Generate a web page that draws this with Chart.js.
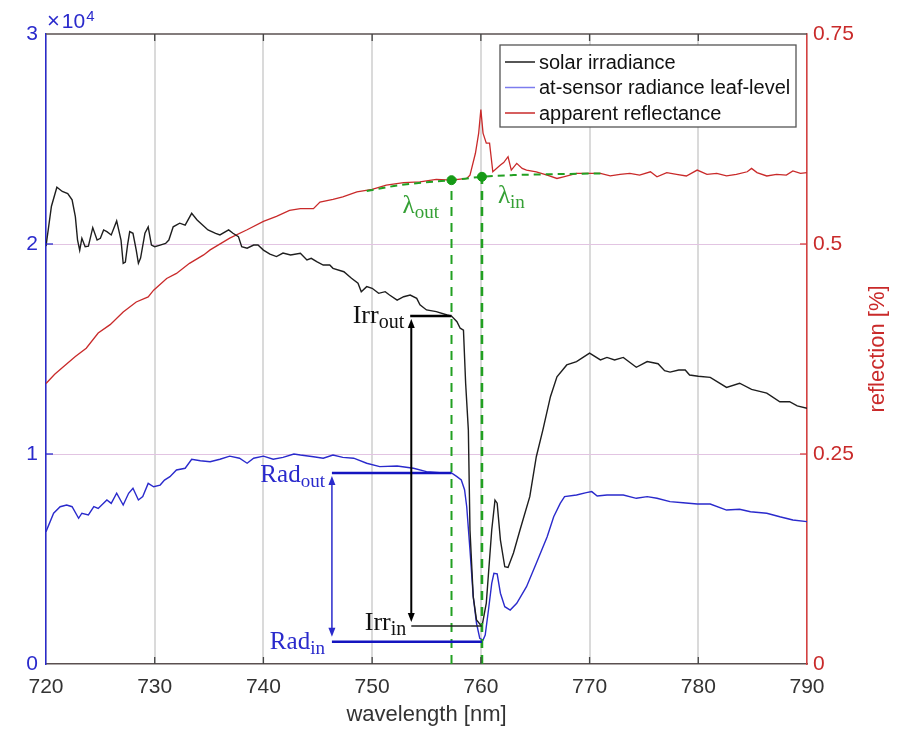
<!DOCTYPE html>
<html>
<head>
<meta charset="utf-8">
<title>Solar irradiance, radiance and apparent reflectance</title>
<script src="https://cdn.jsdelivr.net/npm/chart.js@4.4.0/dist/chart.umd.min.js"></script>
<style>
  html, body { margin: 0; padding: 0; background: #ffffff; }
  #wrap { width: 903px; height: 729px; }
</style>
</head>
<body>
<div id="wrap"><canvas id="spectra" width="903" height="729"></canvas></div>
<script>
// ---- values ----

// solar irradiance (left axis, raw units)
const irrWl = [
  720.0, 720.5, 721.0, 721.5, 722.0, 722.4, 722.7, 722.9, 723.1, 723.3,
  723.6, 723.9, 724.3, 724.7, 725.0, 725.3, 725.6, 726.0, 726.5, 726.9,
  727.1, 727.3, 727.5, 727.7, 728.0, 728.3, 728.5, 728.7, 729.1, 729.4,
  729.7, 730.0, 730.5, 731.0, 731.3, 731.7, 732.3, 732.8, 733.4, 733.9,
  734.3, 734.9, 735.6, 736.0, 736.8, 737.2, 737.7, 738.0, 738.5, 739.1,
  739.5, 740.0, 740.6, 741.2, 741.8, 742.5, 743.4, 744.0, 744.4, 744.9,
  745.5, 746.1, 746.4, 747.4, 748.1, 748.7, 749.0, 749.5, 750.0, 750.6,
  751.2, 751.6, 752.3, 752.9, 753.5, 754.1, 754.4, 755.0, 755.9, 756.9,
  757.3, 757.8, 758.1, 758.4, 758.6, 758.85, 759.0, 759.3, 759.6, 760.1,
  760.5, 761.0, 761.3, 761.5, 761.8, 762.2, 762.5, 763.0, 763.6, 764.5,
  765.1, 765.7, 766.4, 767.0, 767.9, 768.8, 770.0, 771.0, 771.6, 772.3,
  773.1, 774.3, 775.3, 776.3, 776.9, 777.4, 778.2, 778.8, 779.2, 780.0,
  781.1, 782.6, 783.8, 784.9, 786.3, 787.5, 788.4, 789.1, 790.0
];
const irrVal = [
  19900, 21800, 22700, 22500, 22400, 22100, 21300, 20200, 19700, 20270,
  19870, 19900, 20780, 20190, 20270, 20670, 20590, 20430, 21100, 20190,
  19080, 19140, 19950, 20590, 20510, 19710, 19080, 19330, 20510, 20810,
  19950, 19870, 19950, 20030, 20190, 20820, 20990, 20900, 21460, 21140,
  20950, 20670, 20510, 20430, 20670, 20510, 20350, 19870, 19800, 19950,
  19950, 19710, 19520, 19400, 19570, 19480, 19560, 19240, 19320, 19160,
  19000, 19000, 18840, 18680, 18370, 18130, 17730, 17970, 17890, 17650,
  17730, 17570, 17330, 17490, 17570, 17410, 17100, 16860, 16780, 16620,
  16570, 16300, 15990, 15900, 13370, 11140, 6380, 3200, 2100, 1780,
  2900, 6380, 7800, 7660, 5900, 4630, 4600, 5290, 6380, 7970,
  9870, 11140, 12730, 13680, 14240, 14400, 14800, 14480, 14600, 14480,
  14600, 14130, 14400, 14300, 13970, 13900, 14000, 14000, 13760, 13700,
  13650, 13170, 13370, 13080, 12900, 12490, 12490, 12290, 12180
];

// at-sensor radiance, leaf level (left axis)
const radWl = [
  720.0, 720.7, 721.3, 721.9, 722.4, 723.0, 723.3, 723.9, 724.4, 724.8,
  725.6, 726.0, 726.5, 727.1, 727.6, 728.0, 728.5, 728.9, 729.4, 729.9,
  730.5, 730.9, 731.4, 732.0, 732.8, 733.4, 734.2, 735.1, 736.0, 736.9,
  737.8, 738.5, 739.1, 740.0, 740.9, 741.8, 742.8, 743.4, 744.6, 745.5,
  746.4, 747.3, 748.3, 749.5, 750.7, 752.3, 753.8, 755.0, 756.2, 757.3,
  757.8, 758.2, 758.5, 758.7, 759.0, 759.3, 759.6, 759.9, 760.2, 760.4,
  760.7, 761.0, 761.2, 761.5, 761.8, 762.2, 762.7, 763.3, 764.2, 765.1,
  766.1, 766.7, 767.3, 767.7, 768.8, 769.7, 770.2, 770.7, 771.6, 772.2,
  773.1, 774.3, 775.3, 776.2, 777.4, 778.6, 779.9, 781.1, 782.6, 783.8,
  784.8, 786.3, 787.5, 788.7, 790.0
];
const radVal = [
  6300, 7180, 7490, 7570, 7490, 6940, 7180, 7100, 7490, 7410,
  7810, 7650, 8130, 7570, 8130, 8370, 7810, 7970, 8600, 8440,
  8520, 8760, 8920, 9240, 9320, 9750, 9680, 9630, 9750, 9900,
  9800, 9560, 9800, 9900, 9750, 9840, 10000, 9950, 9870, 9800,
  9950, 9840, 9800, 9560, 9400, 9430, 9320, 9160, 9110, 9100,
  8920, 8760, 8300, 7490, 5430, 3200, 1940, 1220, 1140, 1380,
  2570, 3840, 4320, 4290, 3370, 2730, 2570, 2890, 3680, 4800,
  6060, 7010, 7650, 7970, 8050, 8160, 8210, 8000, 8050, 8050,
  8050, 7890, 7970, 7890, 7730, 7680, 7620, 7620, 7330, 7370,
  7250, 7180, 7010, 6860, 6780
];

// apparent reflectance (right axis)
const reflWl = [
  720.0, 720.8, 721.6, 722.7, 723.7, 724.8, 725.9, 727.1, 728.3, 729.4,
  729.9, 731.1, 732.0, 733.2, 734.5, 735.1, 736.9, 738.5, 740.0, 741.2,
  742.4, 743.4, 744.6, 745.2, 746.4, 747.3, 748.6, 750.0, 751.3, 752.9,
  754.4, 755.9, 757.3, 758.7, 759.0, 759.5, 759.8, 760.0, 760.2, 760.5,
  760.8, 761.1, 761.8, 762.1, 762.5, 762.8, 763.3, 763.8, 764.2, 765.1,
  766.1, 767.0, 767.6, 768.8, 770.0, 771.0, 771.9, 772.8, 773.7, 774.6,
  775.6, 776.2, 777.1, 778.0, 778.9, 779.9, 780.8, 781.7, 782.6, 783.5,
  784.5, 784.9, 785.4, 786.3, 787.2, 788.1, 788.7, 789.4, 790.0
];
const reflVal = [
  0.334, 0.345, 0.354, 0.366, 0.376, 0.394, 0.404, 0.419, 0.431, 0.437,
  0.445, 0.459, 0.465, 0.477, 0.487, 0.493, 0.507, 0.517, 0.527, 0.533,
  0.540, 0.542, 0.542, 0.550, 0.553, 0.556, 0.562, 0.565, 0.570, 0.573,
  0.574, 0.577, 0.576, 0.578, 0.582, 0.608, 0.632, 0.660, 0.632, 0.620,
  0.620, 0.586, 0.594, 0.597, 0.604, 0.588, 0.596, 0.590, 0.588, 0.586,
  0.582, 0.578, 0.580, 0.584, 0.584, 0.584, 0.581, 0.583, 0.584, 0.582,
  0.586, 0.580, 0.585, 0.583, 0.581, 0.588, 0.583, 0.584, 0.581, 0.583,
  0.586, 0.590, 0.585, 0.581, 0.583, 0.582, 0.587, 0.584, 0.585
];

// continuum (green dashed) under the O2-A band
const contWl = [749.5, 752.0, 754.5, 757.3, 760.1, 763.0, 766.0, 771.0];
const contVal = [0.563, 0.569, 0.573, 0.576, 0.580, 0.582, 0.583, 0.584];

// annotation levels
const lambdaOut = 757.3, lambdaIn = 760.1;
const reflOut = 0.576, reflIn = 0.580;
const irrOut = 16570, irrIn = 1810;
const radOut = 9100, radIn = 1060;
const irrArrowWl = 753.6, irrLineStart = 753.5;
const radArrowWl = 746.3;

// tick labels
const leftTickLabels = ['0', '1', '2', '3'];
const rightTickLabels = ['0', '0.25', '0.5', '0.75'];
const legendLabels = ['solar irradiance', 'at-sensor radiance leaf-level', 'apparent reflectance'];

// ---- colours ----
const BLACK = '#1e1e1e';
const BLUE = '#2a2acc';
const RED = '#c92a2a';
const GREEN = '#22a022';
const SANS = "'Liberation Sans', Arial, sans-serif";
const SERIF = "'Liberation Serif', 'Times New Roman', serif";

const toXY = (xs, ys) => xs.map((x, i) => ({ x: x, y: ys[i] }));

function drawSubLabel(ctx, main, sub, x, baseline, color, size, alignLeft) {
  const mainFont = size + 'px ' + SERIF;
  const subFont = Math.round(size * 0.76) + 'px ' + SERIF;
  ctx.font = subFont;
  const subW = ctx.measureText(sub).width;
  ctx.font = mainFont;
  const mainW = ctx.measureText(main).width;
  const start = alignLeft ? x : x - subW - mainW;
  ctx.fillStyle = color;
  ctx.textAlign = 'left';
  ctx.textBaseline = 'alphabetic';
  ctx.fillText(main, start, baseline);
  ctx.font = subFont;
  ctx.fillText(sub, start + mainW, baseline + size * 0.2);
}

function doubleArrow(ctx, x, yTop, yBot, color, width) {
  const head = 9, half = 3.5;
  ctx.strokeStyle = color;
  ctx.fillStyle = color;
  ctx.lineWidth = width;
  ctx.beginPath();
  ctx.moveTo(x, yTop + head - 1);
  ctx.lineTo(x, yBot - head + 1);
  ctx.stroke();
  ctx.beginPath();
  ctx.moveTo(x, yTop);
  ctx.lineTo(x - half, yTop + head);
  ctx.lineTo(x + half, yTop + head);
  ctx.closePath();
  ctx.fill();
  ctx.beginPath();
  ctx.moveTo(x, yBot);
  ctx.lineTo(x - half, yBot - head);
  ctx.lineTo(x + half, yBot - head);
  ctx.closePath();
  ctx.fill();
}

// frame ticks, arrows, labels, legend, exponent and right title
const figureExtras = {
  id: 'figureExtras',
  afterDatasetsDraw(chart) {
    const { ctx, chartArea: area, scales: { x, yL, yR } } = chart;
    ctx.save();

    // top frame line
    ctx.strokeStyle = '#5a5050';
    ctx.lineWidth = 1.5;
    ctx.beginPath();
    ctx.moveTo(area.left, area.top);
    ctx.lineTo(area.right, area.top);
    ctx.stroke();

    // inward tick marks
    ctx.lineWidth = 1.3;
    x.ticks.forEach(t => {
      if (t.value === x.min || t.value === x.max) return;
      const px = x.getPixelForValue(t.value);
      ctx.strokeStyle = '#444';
      ctx.beginPath();
      ctx.moveTo(px, area.bottom); ctx.lineTo(px, area.bottom - 7);
      ctx.moveTo(px, area.top); ctx.lineTo(px, area.top + 7);
      ctx.stroke();
    });
    yL.ticks.forEach(t => {
      if (t.value === yL.min || t.value === yL.max) return;
      const py = yL.getPixelForValue(t.value);
      ctx.strokeStyle = BLUE;
      ctx.beginPath(); ctx.moveTo(area.left, py); ctx.lineTo(area.left + 7, py); ctx.stroke();
    });
    yR.ticks.forEach(t => {
      if (t.value === yR.min || t.value === yR.max) return;
      const py = yR.getPixelForValue(t.value);
      ctx.strokeStyle = '#d84040';
      ctx.beginPath(); ctx.moveTo(area.right, py); ctx.lineTo(area.right - 7, py); ctx.stroke();
    });

    // double arrows
    const irrX = x.getPixelForValue(irrArrowWl);
    doubleArrow(ctx, irrX, yL.getPixelForValue(irrOut) + 3, yL.getPixelForValue(irrIn) - 4, '#000', 2);
    const radX = x.getPixelForValue(radArrowWl);
    doubleArrow(ctx, radX, yL.getPixelForValue(radOut) + 3, yL.getPixelForValue(radIn) - 5, BLUE, 1.5);

    // Irr / Rad labels
    drawSubLabel(ctx, 'Irr', 'out', x.getPixelForValue(irrLineStart) - 6, yL.getPixelForValue(irrOut) + 7, '#111', 26, false);
    drawSubLabel(ctx, 'Irr', 'in', irrX - 5, yL.getPixelForValue(irrIn) + 4, '#111', 26, false);
    drawSubLabel(ctx, 'Rad', 'out', radX - 7, yL.getPixelForValue(radOut) + 9, BLUE, 25, false);
    drawSubLabel(ctx, 'Rad', 'in', radX - 7, yL.getPixelForValue(radIn) + 7, BLUE, 25, false);

    // lambda labels
    drawSubLabel(ctx, '\u03bb', 'out', x.getPixelForValue(lambdaOut) - 49, yR.getPixelForValue(reflOut) + 33, '#35a035', 25, true);
    drawSubLabel(ctx, '\u03bb', 'in', x.getPixelForValue(lambdaIn) + 16, yR.getPixelForValue(reflIn) + 26, '#35a035', 25, true);

    // legend
    const lg = { left: area.right - 307, top: area.top + 11, width: 296, height: 82 };
    ctx.fillStyle = '#fff';
    ctx.fillRect(lg.left, lg.top, lg.width, lg.height);
    ctx.strokeStyle = '#555';
    ctx.lineWidth = 1.3;
    ctx.strokeRect(lg.left, lg.top, lg.width, lg.height);
    const swatches = [BLACK, '#7c7cee', RED];
    ctx.font = '20px ' + SANS;
    ctx.textAlign = 'left';
    ctx.textBaseline = 'middle';
    legendLabels.forEach((label, i) => {
      const cy = lg.top + 17 + i * 25.5;
      ctx.strokeStyle = swatches[i];
      ctx.lineWidth = 1.5;
      ctx.beginPath(); ctx.moveTo(lg.left + 5, cy); ctx.lineTo(lg.left + 35, cy); ctx.stroke();
      ctx.fillStyle = '#111';
      ctx.fillText(label, lg.left + 39, cy + 1);
    });

    // x10^4 exponent on the left axis
    ctx.fillStyle = BLUE;
    ctx.textBaseline = 'alphabetic';
    ctx.font = '22px ' + SANS;
    ctx.fillText('\u00d7', area.left + 1, area.top - 6);
    const timesW = ctx.measureText('\u00d7').width;
    ctx.font = '21px ' + SANS;
    ctx.fillText('10', area.left + 3 + timesW, area.top - 6);
    const tenW = ctx.measureText('10').width;
    ctx.font = '15px ' + SANS;
    ctx.fillText('4', area.left + 4 + timesW + tenW, area.top - 13);

    // right axis title, reading upwards
    ctx.save();
    ctx.translate(area.right + 71, (area.top + area.bottom) / 2);
    ctx.rotate(-Math.PI / 2);
    ctx.font = '22px ' + SANS;
    ctx.fillStyle = RED;
    ctx.textAlign = 'center';
    ctx.textBaseline = 'middle';
    ctx.fillText('reflection [%]', 0, 0);
    ctx.restore();

    ctx.restore();
  }
};

const annotationLine = (data, color, width, axis) => ({
  data: data,
  yAxisID: axis,
  borderColor: color,
  borderWidth: width,
  pointRadius: 0,
  order: 0
});

const ctx = document.getElementById('spectra');

new Chart(ctx, {
  type: 'line',
  data: {
    datasets: [
      {
        label: legendLabels[0],
        data: toXY(irrWl, irrVal),
        yAxisID: 'yL',
        borderColor: BLACK,
        borderWidth: 1.4,
        pointRadius: 0,
        order: 2
      },
      {
        label: legendLabels[1],
        data: toXY(radWl, radVal),
        yAxisID: 'yL',
        borderColor: BLUE,
        borderWidth: 1.4,
        pointRadius: 0,
        order: 2
      },
      {
        label: legendLabels[2],
        data: toXY(reflWl, reflVal),
        yAxisID: 'yR',
        borderColor: RED,
        borderWidth: 1.3,
        pointRadius: 0,
        order: 2
      },
      {
        label: 'continuum',
        data: toXY(contWl, contVal),
        yAxisID: 'yR',
        borderColor: GREEN,
        borderWidth: 2,
        borderDash: [7, 5],
        pointRadius: 0,
        cubicInterpolationMode: 'monotone',
        order: 1
      },
      {
        label: 'lambda out',
        data: [{ x: lambdaOut, y: 0 }, { x: lambdaOut, y: reflOut }],
        yAxisID: 'yR',
        borderColor: GREEN,
        borderWidth: 2,
        borderDash: [9, 7],
        pointRadius: 0,
        order: 1
      },
      {
        label: 'lambda in',
        data: [{ x: lambdaIn, y: 0 }, { x: lambdaIn, y: reflIn }],
        yAxisID: 'yR',
        borderColor: GREEN,
        borderWidth: 2.6,
        borderDash: [9, 7],
        pointRadius: 0,
        order: 1
      },
      {
        label: 'lambda points',
        data: [{ x: lambdaOut, y: reflOut }, { x: lambdaIn, y: reflIn }],
        yAxisID: 'yR',
        showLine: false,
        pointRadius: 4.5,
        pointBackgroundColor: '#169a16',
        pointBorderColor: '#169a16',
        order: 0
      },
      annotationLine([{ x: irrLineStart, y: irrOut }, { x: lambdaOut, y: irrOut }], '#000', 2.5, 'yL'),
      annotationLine([{ x: irrArrowWl, y: irrIn }, { x: lambdaIn, y: irrIn }], '#222', 1.5, 'yL'),
      annotationLine([{ x: radArrowWl, y: radOut }, { x: lambdaOut, y: radOut }], '#1515c0', 2.5, 'yL'),
      annotationLine([{ x: radArrowWl, y: radIn }, { x: lambdaIn, y: radIn }], '#1515c0', 2.5, 'yL')
    ]
  },
  options: {
    responsive: false,
    animation: false,
    devicePixelRatio: 1,
    events: [],
    layout: { padding: { top: 34, left: 0, right: 0, bottom: 0 } },
    elements: { line: { tension: 0, fill: false } },
    plugins: {
      legend: { display: false },
      tooltip: { enabled: false },
      title: { display: false }
    },
    scales: {
      x: {
        type: 'linear',
        min: 720,
        max: 790,
        afterFit: s => { s.height = 65; },
        ticks: {
          stepSize: 10,
          padding: 11,
          color: '#333',
          font: { family: SANS, size: 21 }
        },
        grid: { color: '#dadada', lineWidth: 2, drawTicks: false },
        border: { color: '#5a5050', width: 1.5 },
        title: {
          display: true,
          text: 'wavelength [nm]',
          color: '#333',
          font: { family: SANS, size: 22 },
          padding: { top: 0, bottom: 1 }
        }
      },
      yL: {
        type: 'linear',
        position: 'left',
        min: 0,
        max: 30000,
        afterFit: s => { s.width = 46; },
        ticks: {
          stepSize: 10000,
          padding: 8,
          color: BLUE,
          font: { family: SANS, size: 21 },
          callback: (v, i) => leftTickLabels[i]
        },
        grid: { display: false, drawTicks: false },
        border: { color: BLUE, width: 1.5 }
      },
      yR: {
        type: 'linear',
        position: 'right',
        min: 0,
        max: 0.75,
        afterFit: s => { s.width = 96; },
        ticks: {
          stepSize: 0.25,
          padding: 6,
          color: RED,
          font: { family: SANS, size: 21 },
          callback: (v, i) => rightTickLabels[i]
        },
        grid: {
          drawTicks: false,
          lineWidth: 1,
          color: c => (c.tick && (c.tick.value === 0.25 || c.tick.value === 0.5)) ? '#e2c4e2' : 'rgba(0,0,0,0)'
        },
        border: { color: '#d84040', width: 1.5 }
      }
    }
  },
  plugins: [figureExtras]
});
</script>
</body>
</html>
